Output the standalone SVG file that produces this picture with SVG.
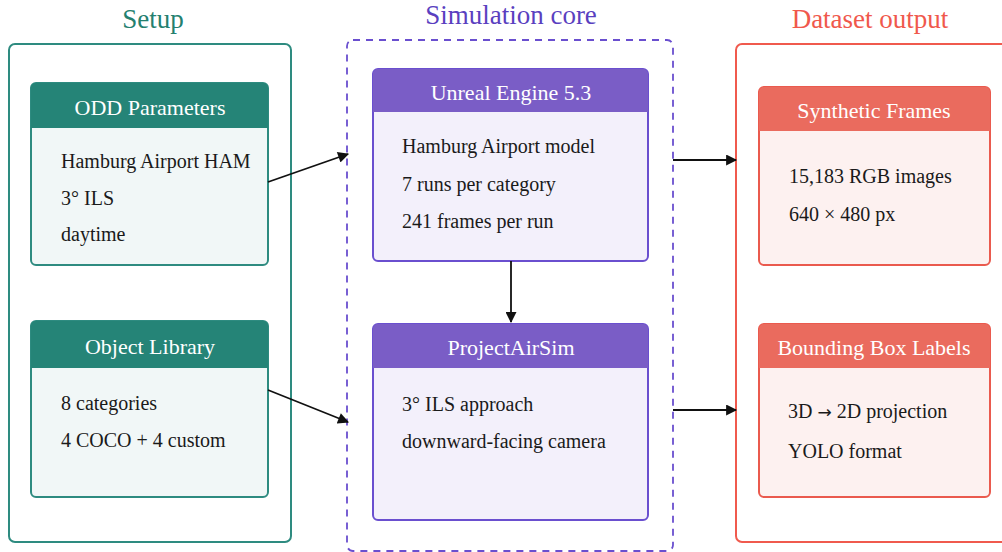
<svg xmlns="http://www.w3.org/2000/svg" width="1002" height="552" viewBox="0 0 1002 552">
<defs>
<marker id="ah" viewBox="0 0 10 10" refX="9" refY="5" markerWidth="12" markerHeight="11" markerUnits="userSpaceOnUse" orient="auto">
<path d="M0,0 L10,5 L0,10 z" fill="#111"/>
</marker>
<style>
text{font-family:"Liberation Serif","Times New Roman",serif}
.title{font-size:27px;text-anchor:middle}
.hd{font-size:22px;fill:#fff;text-anchor:middle}
.bd{font-size:20px;fill:#1a1a1a}
.conn{stroke:#111;stroke-width:1.8;fill:none;marker-end:url(#ah)}
</style>
</defs>
<rect width="1002" height="552" fill="#fff"/>
<g id="setup">
<rect x="9" y="44" width="282" height="498" rx="6" fill="#fff" stroke="#2e8b80" stroke-width="2"/>
<text class="title" x="153" y="28" fill="#24806f">Setup</text>
</g>
<g id="simcore">
<rect x="347" y="40" width="326" height="511" rx="6" fill="#fff" stroke="#6a4fcf" stroke-width="1.8" stroke-dasharray="7,6"/>
<text class="title" x="511" y="24" fill="#5a3fc0">Simulation core</text>
</g>
<g id="dataset">
<rect x="736" y="44" width="280" height="498" rx="6" fill="#fff" stroke="#f05a4e" stroke-width="2"/>
<text class="title" x="870" y="28" fill="#f0584c">Dataset output</text>
</g>
<g id="odd">
<rect x="31" y="83" width="237" height="182" rx="5" fill="#f1f7f7" stroke="#2e8b80" stroke-width="2"/>
<path d="M31,128 V88 a5,5 0 0 1 5,-5 H263 a5,5 0 0 1 5,5 V128 z" fill="#258477"/>
<text class="hd" x="150" y="115">ODD Parameters</text>
<text class="bd" x="61" y="168">Hamburg Airport HAM</text>
<text class="bd" x="61" y="205">3° ILS</text>
<text class="bd" x="61" y="241">daytime</text>
</g>
<g id="objlib">
<rect x="31" y="321" width="237" height="176" rx="5" fill="#f1f7f7" stroke="#2e8b80" stroke-width="2"/>
<path d="M31,368 V326 a5,5 0 0 1 5,-5 H263 a5,5 0 0 1 5,5 V368 z" fill="#258477"/>
<text class="hd" x="150" y="354">Object Library</text>
<text class="bd" x="61" y="410">8 categories</text>
<text class="bd" x="61" y="447">4 COCO + 4 custom</text>
</g>
<g id="unreal">
<rect x="373" y="69" width="275" height="192" rx="5" fill="#f3f0fb" stroke="#6a4fcf" stroke-width="2"/>
<path d="M373,112 V74 a5,5 0 0 1 5,-5 H643 a5,5 0 0 1 5,5 V112 z" fill="#7a5dc6"/>
<text class="hd" x="511" y="100">Unreal Engine 5.3</text>
<text class="bd" x="402" y="153">Hamburg Airport model</text>
<text class="bd" x="402" y="191">7 runs per category</text>
<text class="bd" x="402" y="228">241 frames per run</text>
</g>
<g id="airsim">
<rect x="373" y="324" width="275" height="196" rx="5" fill="#f3f0fb" stroke="#6a4fcf" stroke-width="2"/>
<path d="M373,368 V329 a5,5 0 0 1 5,-5 H643 a5,5 0 0 1 5,5 V368 z" fill="#7a5dc6"/>
<text class="hd" x="511" y="355">ProjectAirSim</text>
<text class="bd" x="402" y="411">3° ILS approach</text>
<text class="bd" x="402" y="448">downward-facing camera</text>
</g>
<g id="frames">
<rect x="759" y="87" width="231" height="178" rx="5" fill="#fdf1f0" stroke="#ea5a4e" stroke-width="2"/>
<path d="M759,131 V92 a5,5 0 0 1 5,-5 H985 a5,5 0 0 1 5,5 V131 z" fill="#ea6b5e"/>
<text class="hd" x="874" y="118">Synthetic Frames</text>
<text class="bd" x="789" y="183">15,183 RGB images</text>
<text class="bd" x="789" y="221">640 × 480 px</text>
</g>
<g id="bbox">
<rect x="759" y="324" width="231" height="173" rx="5" fill="#fdf1f0" stroke="#ea5a4e" stroke-width="2"/>
<path d="M759,368 V329 a5,5 0 0 1 5,-5 H985 a5,5 0 0 1 5,5 V368 z" fill="#ea6b5e"/>
<text class="hd" x="874" y="355">Bounding Box Labels</text>
<text class="bd" x="788" y="418">3D <tspan font-family="DejaVu Sans" font-size="17">→</tspan> 2D projection</text>
<text class="bd" x="788" y="458">YOLO format</text>
</g>
<g id="connectors">
<line class="conn" x1="268" y1="182" x2="348" y2="154"/>
<line class="conn" x1="268" y1="390" x2="348" y2="422"/>
<line class="conn" x1="511" y1="261" x2="511" y2="322"/>
<line class="conn" x1="673" y1="160" x2="736" y2="160"/>
<line class="conn" x1="673" y1="410" x2="736" y2="410"/>
</g>
</svg>
